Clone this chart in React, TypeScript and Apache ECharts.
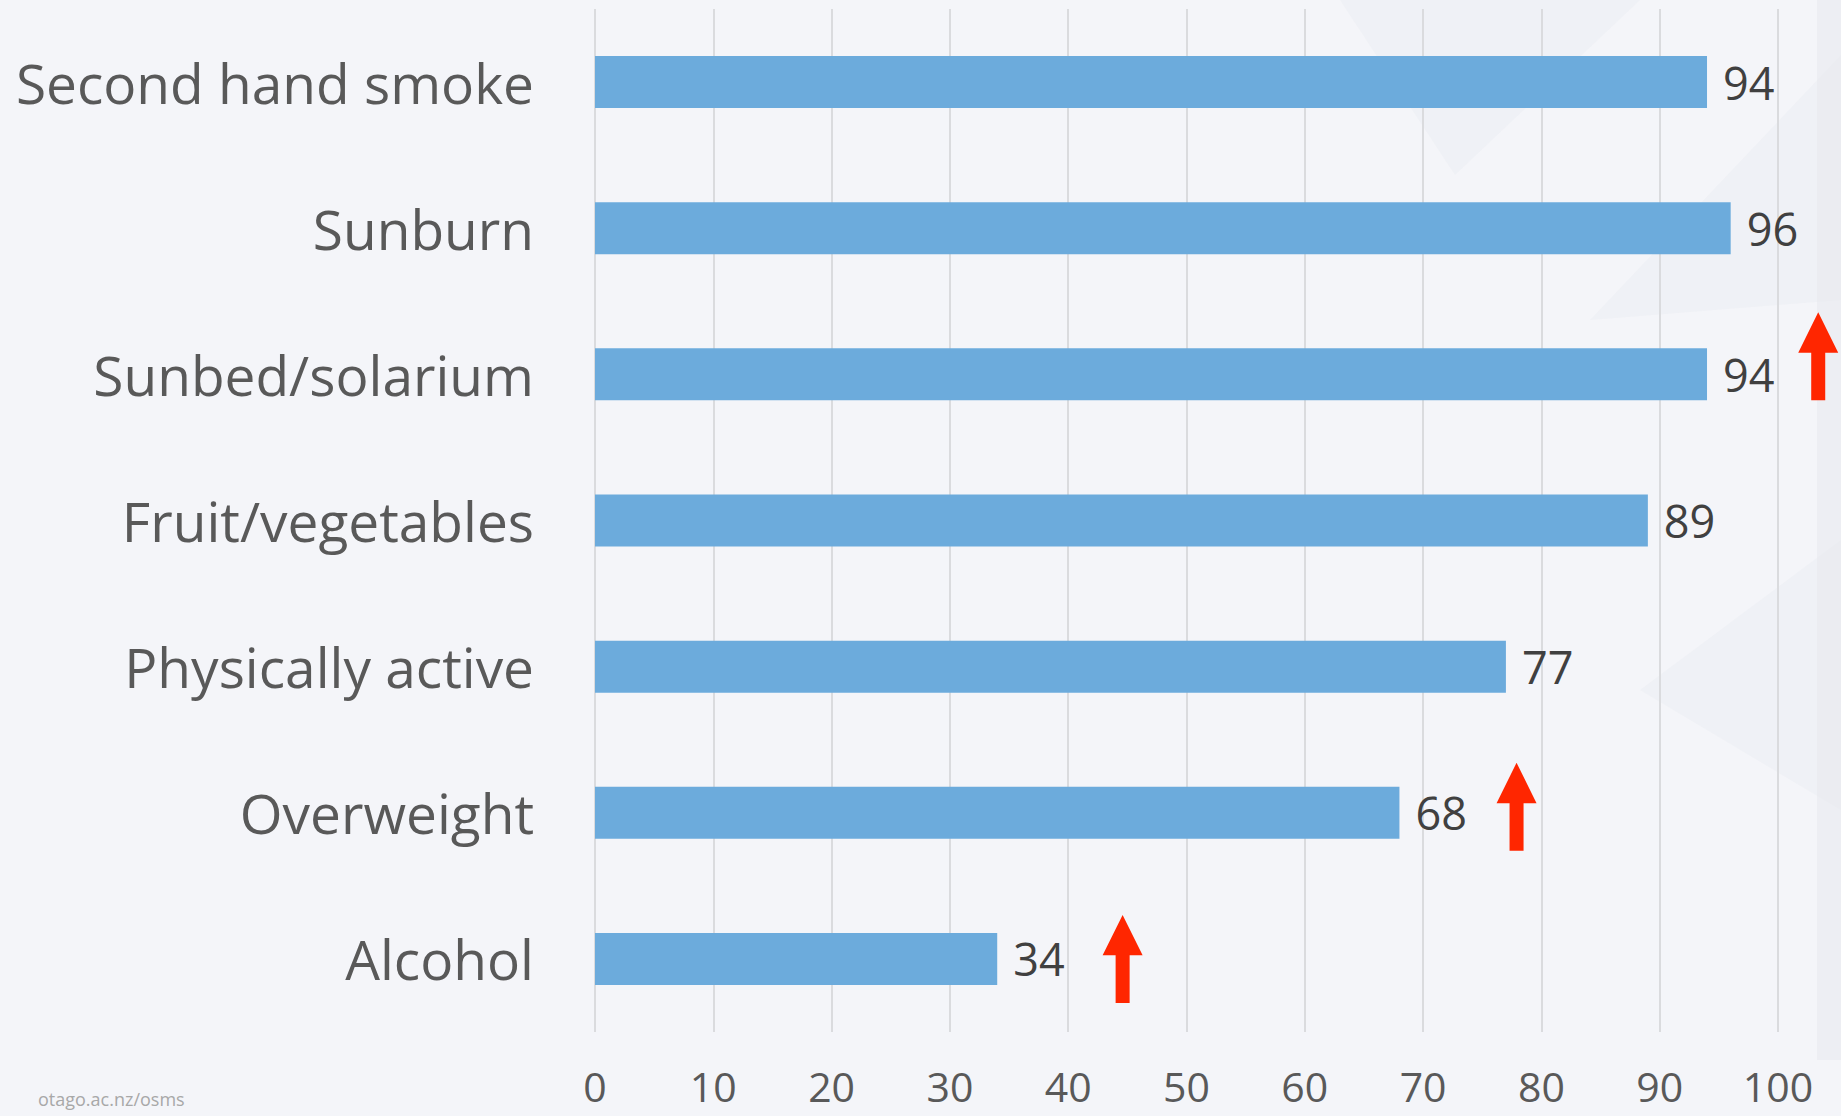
import React, { useEffect, useRef } from "react";
import * as echarts from "echarts";

const categories = [
  "Second hand smoke",
  "Sunburn",
  "Sunbed/solarium",
  "Fruit/vegetables",
  "Physically active",
  "Overweight",
  "Alcohol",
];
const values = [94, 96, 94, 89, 77, 68, 34];
const xTicks = [0, 10, 20, 30, 40, 50, 60, 70, 80, 90, 100];
// red "increase" arrows: [x value, category]
const arrowMarks: [number, string][] = [
  [103.4, "Sunbed/solarium"],
  [77.9, "Overweight"],
  [44.6, "Alcohol"],
];
const arrowOffsets = [-18, -6, 0];

const FONT = "'Open Sans', 'Noto Sans', sans-serif";
const ARROW = "path://M20,0 L40,39 L27,39 L27,85 L13,85 L13,39 L0,39 Z";

export default function App() {
  const ref = useRef<HTMLDivElement>(null);
  useEffect(() => {
    document.body.style.margin = "0";
    const chart = echarts.init(ref.current!, null, { renderer: "svg" });
    const bg = (points: number[][], fill: string, opacity: number) => ({
      type: "polygon",
      silent: true,
      z: -10,
      shape: { points },
      style: { fill, opacity },
    });
    chart.setOption({
      animation: false,
      backgroundColor: "#F4F5F9",
      textStyle: { fontFamily: FONT },
      grid: { left: 595, right: 63, top: 9, bottom: 84, containLabel: false },
      graphic: [
        bg([[1340, 0], [1640, 0], [1455, 175]], "#E6E7EE", 0.3),
        bg([[1841, 55], [1841, 300], [1590, 320]], "#E6E7EE", 0.3),
        bg([[1841, 540], [1841, 810], [1640, 690]], "#E6E7EE", 0.3),
        bg([[1817, 0], [1841, 0], [1841, 1060], [1817, 1060]], "#E8E9EF", 0.6),
        {
          type: "text",
          left: 38,
          top: 1090,
          silent: true,
          style: {
            text: "otago.ac.nz/osms",
            fontSize: 18,
            lineHeight: 18,
            fill: "#A8A8A8",
            fontFamily: FONT,
          },
        },
      ],
      xAxis: {
        type: "value",
        min: 0,
        max: 100,
        interval: 10,
        axisLine: { show: false },
        axisTick: { show: false },
        splitLine: { show: true, lineStyle: { color: "#DADBDE", width: 2 } },
        axisLabel: {
          fontSize: 41,
          lineHeight: 34,
          color: "#595959",
          margin: 37,
          fontFamily: FONT,
          formatter: (v: number) => (xTicks.includes(v) ? String(v) : ""),
        },
      },
      yAxis: {
        type: "category",
        data: categories,
        inverse: true,
        axisLine: { show: false },
        axisTick: { show: false },
        splitLine: { show: false },
        axisLabel: { fontSize: 55, color: "#595959", margin: 61, fontFamily: FONT },
      },
      series: [
        {
          type: "bar",
          data: values,
          barWidth: 52,
          itemStyle: { color: "#6CABDC" },
          label: {
            show: true,
            position: "right",
            distance: 16,
            fontSize: 45,
            color: "#404040",
            fontFamily: FONT,
          },
        },
        {
          type: "scatter",
          clip: false,
          data: arrowMarks.map((a, i) => ({
            value: a,
            symbolOffset: [0, arrowOffsets[i]],
          })),
          symbol: ARROW,
          symbolSize: [40, 88],
          itemStyle: { color: "#FF2600", opacity: 1 },
          z: 5,
        },
      ],
    });
    return () => chart.dispose();
  }, []);
  return (
    <div
      ref={ref}
      style={{ position: "absolute", left: 0, top: 0, width: 1841, height: 1116 }}
    />
  );
}
